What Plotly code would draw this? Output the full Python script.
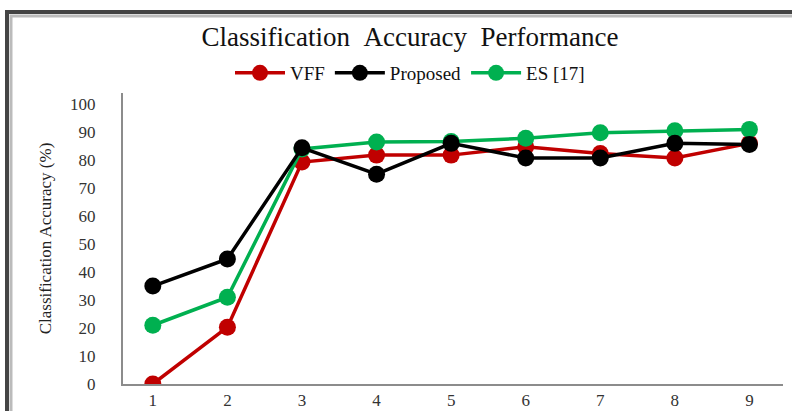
import plotly.graph_objects as go

categories = [1, 2, 3, 4, 5, 6, 7, 8, 9]
vff = [0, 20.3, 79.3, 81.8, 81.8, 84.8, 82.4, 80.8, 86]
proposed = [35, 44.7, 84.4, 75, 86, 80.8, 80.8, 86, 85.6]
es17 = [21, 31, 84, 86.5, 86.7, 87.8, 89.8, 90.5, 91]
y_ticks = [0, 10, 20, 30, 40, 50, 60, 70, 80, 90, 100]

L, R, T, B = 123, 783, 93, 384
W, H = 792, 411

def px(x):
    return (x - L) / (R - L)

def py(y):
    return (B - y) / (B - T)

font_fam = "Liberation Serif, Times New Roman, serif"

fig = go.Figure()
series = [("VFF", vff, "#C00000", 1), ("ES [17]", es17, "#00B050", 3), ("Proposed", proposed, "#000000", 2)]
for name, vals, col, rank in series:
    fig.add_trace(go.Scatter(
        x=categories, y=vals, name=name, mode="lines+markers", legendrank=rank,
        line=dict(color=col, width=3.5),
        marker=dict(color=col, size=17),
    ))

fig.update_layout(
    width=W, height=H,
    margin=dict(l=L, r=W - R, t=T, b=H - B, autoexpand=False),
    paper_bgcolor="white", plot_bgcolor="white",
    font=dict(family=font_fam, color="#222"),
    title=dict(text="Classification&nbsp;&nbsp;Accuracy&nbsp;&nbsp;Performance", xref="container", x=410 / W, xanchor="center",
               y=1 - 37 / H, yanchor="middle", font=dict(size=27, color="#111", family=font_fam)),
    legend=dict(orientation="h", x=(410 - L) / (R - L), xanchor="center", y=py(73), yanchor="middle",
                font=dict(size=19, color="#111"), itemwidth=50, tracegroupgap=0,
                bgcolor="rgba(0,0,0,0)"),
    showlegend=True,
    xaxis=dict(range=[0.6, 9.45], tickvals=categories, ticktext=[str(c) for c in categories],
               showgrid=False, zeroline=False, showline=True, linecolor="#8c8c8c", linewidth=2,
               ticks="", tickfont=dict(size=17, color="#333")),
    yaxis=dict(range=[0, 104], tickvals=y_ticks, showgrid=False, zeroline=False,
               showline=True, linecolor="#8c8c8c", linewidth=2, ticks="",
               ticklabelstandoff=22,
               tickfont=dict(size=17, color="#333"),
               title=dict(text="Classification Accuracy (%)", font=dict(size=17, color="#222"), standoff=14)),
)

# outer frame with shadow
fig.add_shape(type="rect", xref="paper", yref="paper",
              x0=px(7), x1=px(800), y0=py(425), y1=py(12),
              line=dict(color="#444", width=4), fillcolor="rgba(0,0,0,0)", layer="below")
fig.add_shape(type="rect", xref="paper", yref="paper",
              x0=px(11), x1=px(800), y0=py(425), y1=py(16),
              line=dict(color="#bbb", width=3), fillcolor="rgba(0,0,0,0)", layer="below")

fig.write_html("out.html", config={"displayModeBar": False},
               post_script="document.body.style.margin='0';document.body.style.overflow='hidden';")
